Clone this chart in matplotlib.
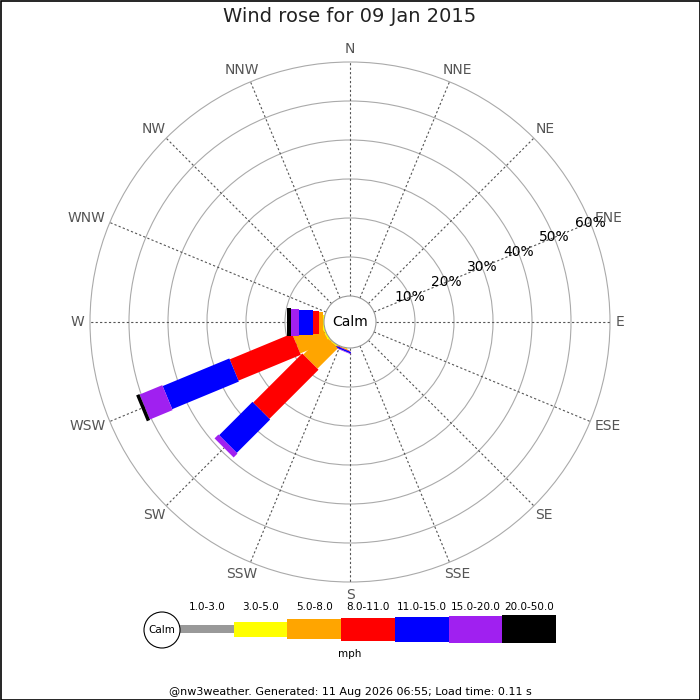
import numpy as np
import matplotlib
matplotlib.use("Agg")
import matplotlib.pyplot as plt
from matplotlib.patches import Polygon, Circle, Rectangle

# ---------------- data ----------------
directions = ["N", "NNE", "NE", "ENE", "E", "ESE", "SE", "SSE",
              "S", "SSW", "SW", "WSW", "W", "WNW", "NW", "NNW"]
bin_labels = ["1.0-3.0", "3.0-5.0", "5.0-8.0", "8.0-11.0",
              "11.0-15.0", "15.0-20.0", "20.0-50.0"]
bin_colors = ["#999999", "#ffff00", "#ffa500", "#ff0000",
              "#0000ff", "#a020f0", "#000000"]
bin_widths = [8, 15, 20, 23, 25, 27, 28]   # leg thickness in px

#            N  NNE NE ENE E ESE SE SSE S  SSW   SW    WSW   W    WNW NW NNW
spd_1_3   = [0, 0, 0, 0, 0, 0, 0, 0, 0, 0.00, 0.0, 0.0, 0.00, 0, 0, 0]
spd_3_5   = [0, 0, 0, 0, 0, 0, 0, 0, 0, 0.10, 0.3, 0.4, 0.25, 0, 0, 0]
spd_5_8   = [0, 0, 0, 0, 0, 0, 0, 0, 0, 0.10, 7.4, 7.8, 1.05, 0, 0, 0]
spd_8_11  = [0, 0, 0, 0, 0, 0, 0, 0, 0, 0.15, 17.8, 17.3, 1.5, 0, 0, 0]
spd_11_15 = [0, 0, 0, 0, 0, 0, 0, 0, 0, 0.40, 12.1, 18.5, 3.6, 0, 0, 0]
spd_15_20 = [0, 0, 0, 0, 0, 0, 0, 0, 0, 0.15, 1.4, 6.3, 2.1, 0, 0, 0]
spd_20_50 = [0, 0, 0, 0, 0, 0, 0, 0, 0, 0.00, 0.0, 0.9, 1.0, 0, 0, 0]
speed_bins = [spd_1_3, spd_3_5, spd_5_8, spd_8_11, spd_11_15, spd_15_20, spd_20_50]

ring_values = [10, 20, 30, 40, 50, 60]
title = "Wind rose for 09 Jan 2015"
unit = "mph"
footer = "@nw3weather. Generated: 11 Aug 2026 06:55; Load time: 0.11 s"

# ---------------- layout ----------------
W, H = 700, 700
cx, cy = 350, 322
calm_r = 26.0
px_per_pct = 3.9


def rad(p):
    return calm_r + px_per_pct * p


def unit_vec(i):
    th = np.deg2rad(i * 22.5)
    return np.sin(th), -np.cos(th)


fig = plt.figure(figsize=(7, 7), dpi=100)
ax = fig.add_axes([0, 0, 1, 1])
ax.set_xlim(0, W)
ax.set_ylim(H, 0)
ax.axis("off")

# title
ax.text(350, 17, title, ha="center", va="center", fontsize=14, color="#222222")

# rings
outer_r = rad(ring_values[-1])
for v in ring_values:
    ax.add_patch(Circle((cx, cy), rad(v), fill=False, ec="#aaaaaa", lw=0.8, zorder=1))

# spokes
for i in range(16):
    ux, uy = unit_vec(i)
    ax.plot([cx + ux * calm_r, cx + ux * outer_r], [cy + uy * calm_r, cy + uy * outer_r],
            color="#555555", lw=0.8, linestyle=(0, (2, 2)), zorder=1)

# legs
for i in range(16):
    ux, uy = unit_vec(i)
    px_, py_ = -uy, ux
    cum = 0.0
    r0 = 0.0
    for b in range(len(speed_bins)):
        v = speed_bins[b][i]
        if v <= 0:
            continue
        cum += v
        r1 = rad(cum)
        hw = bin_widths[b] / 2.0
        pts = [
            (cx + ux * r0 + px_ * hw, cy + uy * r0 + py_ * hw),
            (cx + ux * r1 + px_ * hw, cy + uy * r1 + py_ * hw),
            (cx + ux * r1 - px_ * hw, cy + uy * r1 - py_ * hw),
            (cx + ux * r0 - px_ * hw, cy + uy * r0 - py_ * hw),
        ]
        ax.add_patch(Polygon(pts, closed=True, fc=bin_colors[b], ec="none", zorder=2))
        r0 = r1

# calm circle
ax.add_patch(Circle((cx, cy), calm_r, fc="white", ec="#999999", lw=0.8, zorder=3))
ax.text(cx, cy, "Calm", ha="center", va="center", fontsize=10, color="black", zorder=4)

# ring labels along ENE
ux, uy = unit_vec(3)
for v in ring_values:
    r = rad(v)
    ax.text(cx + ux * r, cy + uy * r, f"{v}%", ha="center", va="center",
            fontsize=10, color="black", zorder=4)

# direction labels
fig.canvas.draw()
renderer = fig.canvas.get_renderer()
lab_r = 266
for i, name in enumerate(directions):
    ux, uy = unit_vec(i)
    t = ax.text(0, 0, name, ha="center", va="center", fontsize=10, color="#555555")
    bb = t.get_window_extent(renderer=renderer)
    w, h = bb.width, bb.height
    x = cx + ux * lab_r + ux * w / 2
    y = cy + uy * lab_r + uy * h / 2
    t.set_position((x, y))

# legend
leg_x0, leg_x1 = 180, 556
leg_cy = 629
seg = (leg_x1 - leg_x0) / len(bin_labels)
for b, lab in enumerate(bin_labels):
    x0 = leg_x0 + b * seg
    hw = bin_widths[b] / 2.0
    ax.add_patch(Rectangle((x0, leg_cy - hw), seg, 2 * hw, fc=bin_colors[b], ec="none", zorder=2))
    ax.text(x0 + seg / 2, 607, lab, ha="center", va="center", fontsize=7.5, color="black")
ax.add_patch(Circle((162, 630), 18, fc="white", ec="black", lw=0.8, zorder=3))
ax.text(162, 630, "Calm", ha="center", va="center", fontsize=7.5, color="black", zorder=4)
ax.text(350, 654, unit, ha="center", va="center", fontsize=7.5, color="black")

# footer
ax.text(350, 692, footer, ha="center", va="center", fontsize=8, color="black")

# border
ax.add_patch(Rectangle((0.5, 0.5), W - 1, H - 1, fill=False, ec="black", lw=1.2, zorder=5))

fig.savefig("out.png", dpi=100)
